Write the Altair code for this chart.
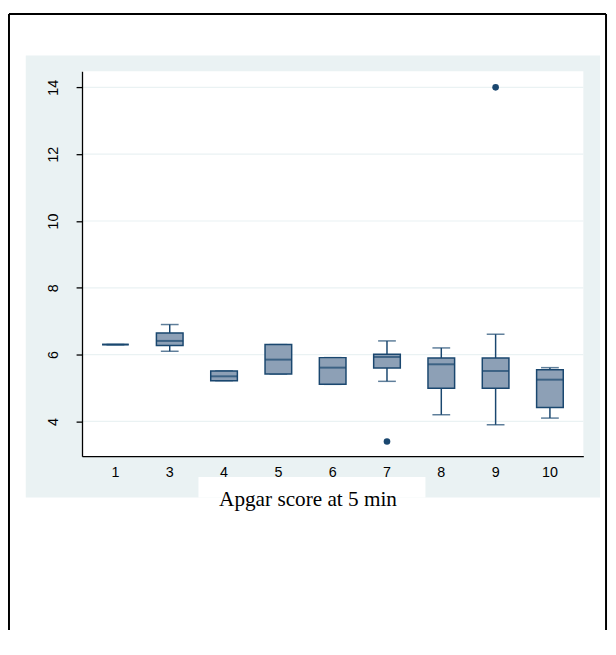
import altair as alt
import pandas as pd

# ---- data ----
categories = ["1", "3", "4", "5", "6", "7", "8", "9", "10"]
whisker_low = [6.30, 6.10, 5.22, 5.42, 5.11, 5.20, 4.20, 3.90, 4.10]
q1 = [6.30, 6.27, 5.22, 5.42, 5.11, 5.60, 4.99, 4.99, 4.42]
median = [6.30, 6.41, 5.35, 5.85, 5.61, 5.93, 5.71, 5.51, 5.25]
q3 = [6.30, 6.65, 5.51, 6.30, 5.91, 6.01, 5.90, 5.90, 5.55]
whisker_high = [6.30, 6.90, 5.51, 6.30, 5.91, 6.41, 6.20, 6.61, 5.61]
outlier_cat = ["7", "9"]
outlier_val = [3.40, 14.0]
y_ticks = [4, 6, 8, 10, 12, 14]
x_title = "Apgar score at 5 min"

W, H = 508, 390
NAVY = "#1A476F"
FILL = "#8DA0B6"
PANEL = "#EAF2F3"

boxes = pd.DataFrame({
    "cat": categories, "lo": whisker_low, "q1": q1, "med": median,
    "q3": q3, "hi": whisker_high,
})
outliers = pd.DataFrame({"cat": outlier_cat, "v": outlier_val})
grid = pd.DataFrame({"g": y_ticks})
one = pd.DataFrame({"a": [0]})

xscale = alt.Scale(domain=categories, paddingInner=0, paddingOuter=0.115)
yscale = alt.Scale(domain=[2.96, 14.48], nice=False, zero=False)

xaxis = alt.Axis(title=None, ticks=False, grid=False, domainColor="black",
                 domainWidth=1.3, labelColor="black", labelFont="Liberation Sans",
                 labelFontSize=14.5, labelPadding=10, labelAngle=0, zindex=1)
yaxis = alt.Axis(title=None, values=y_ticks, grid=False, domainColor="black",
                 domainWidth=1.3, tickColor="black", tickWidth=1.3, tickSize=6,
                 labelColor="black", labelFont="Liberation Sans", labelFontSize=14.5,
                 labelAngle=270, labelAlign="center", labelBaseline="bottom",
                 labelPadding=16, zindex=1)

X = alt.X("cat:N", scale=xscale, axis=xaxis, sort=categories)

panel = alt.Chart(one).mark_rect(color=PANEL).encode(
    x=alt.value(-57), x2=alt.value(525), y=alt.value(-16), y2=alt.value(432))
plotbg = alt.Chart(one).mark_rect(color="white").encode(
    x=alt.value(0), x2=alt.value(W), y=alt.value(0), y2=alt.value(H))
titlebox = alt.Chart(one).mark_rect(color="white").encode(
    x=alt.value(118), x2=alt.value(348), y=alt.value(411), y2=alt.value(432))

gridlines = alt.Chart(grid).mark_rule(color=PANEL, strokeWidth=1.2).encode(
    y=alt.Y("g:Q", scale=yscale, axis=yaxis))

whisk = alt.Chart(boxes).mark_rule(color=NAVY, strokeWidth=1.5).encode(
    x=X, y=alt.Y("lo:Q", scale=yscale, axis=yaxis), y2="hi:Q")
cap_hi = alt.Chart(boxes).mark_tick(color=NAVY, size=18, thickness=1.5).encode(
    x=X, y=alt.Y("hi:Q", scale=yscale, axis=yaxis))
cap_lo = alt.Chart(boxes).mark_tick(color=NAVY, size=18, thickness=1.5).encode(
    x=X, y=alt.Y("lo:Q", scale=yscale, axis=yaxis))
box = alt.Chart(boxes).mark_bar(size=27, fill=FILL, stroke=NAVY, strokeWidth=1.5).encode(
    x=X, y=alt.Y("q1:Q", scale=yscale, axis=yaxis), y2="q3:Q")
med = alt.Chart(boxes).mark_tick(color=NAVY, size=27, thickness=2).encode(
    x=X, y=alt.Y("med:Q", scale=yscale, axis=yaxis))
outl = alt.Chart(outliers).mark_point(filled=True, color=NAVY, size=45, opacity=1).encode(
    x=X, y=alt.Y("v:Q", scale=yscale, axis=yaxis))

border_top = alt.Chart(one).mark_rule(color="black", strokeWidth=2).encode(
    x=alt.value(-74), x2=alt.value(531), y=alt.value(-58), y2=alt.value(-58))
border_left = alt.Chart(one).mark_rule(color="black", strokeWidth=2).encode(
    x=alt.value(-74), x2=alt.value(-74), y=alt.value(-58), y2=alt.value(570))
border_right = alt.Chart(one).mark_rule(color="black", strokeWidth=2).encode(
    x=alt.value(531), x2=alt.value(531), y=alt.value(-58), y2=alt.value(570))

title = alt.Chart(one).mark_text(font="Liberation Serif", fontSize=21.5, color="black",
                                 align="center", baseline="alphabetic").encode(
    x=alt.value(229), y=alt.value(440), text=alt.value(x_title))

chart = alt.layer(
    panel, plotbg, titlebox, gridlines, whisk, cap_hi, cap_lo, box, med, outl,
    border_top, border_left, border_right, title,
).properties(
    width=W, height=H,
    autosize=alt.AutoSizeParams(type="none"),
    padding={"left": 75, "top": 60, "right": 25, "bottom": 172},
    background="white",
).configure_view(stroke="transparent")

chart.save("out.html", embed_options={"renderer": "svg", "actions": False})
